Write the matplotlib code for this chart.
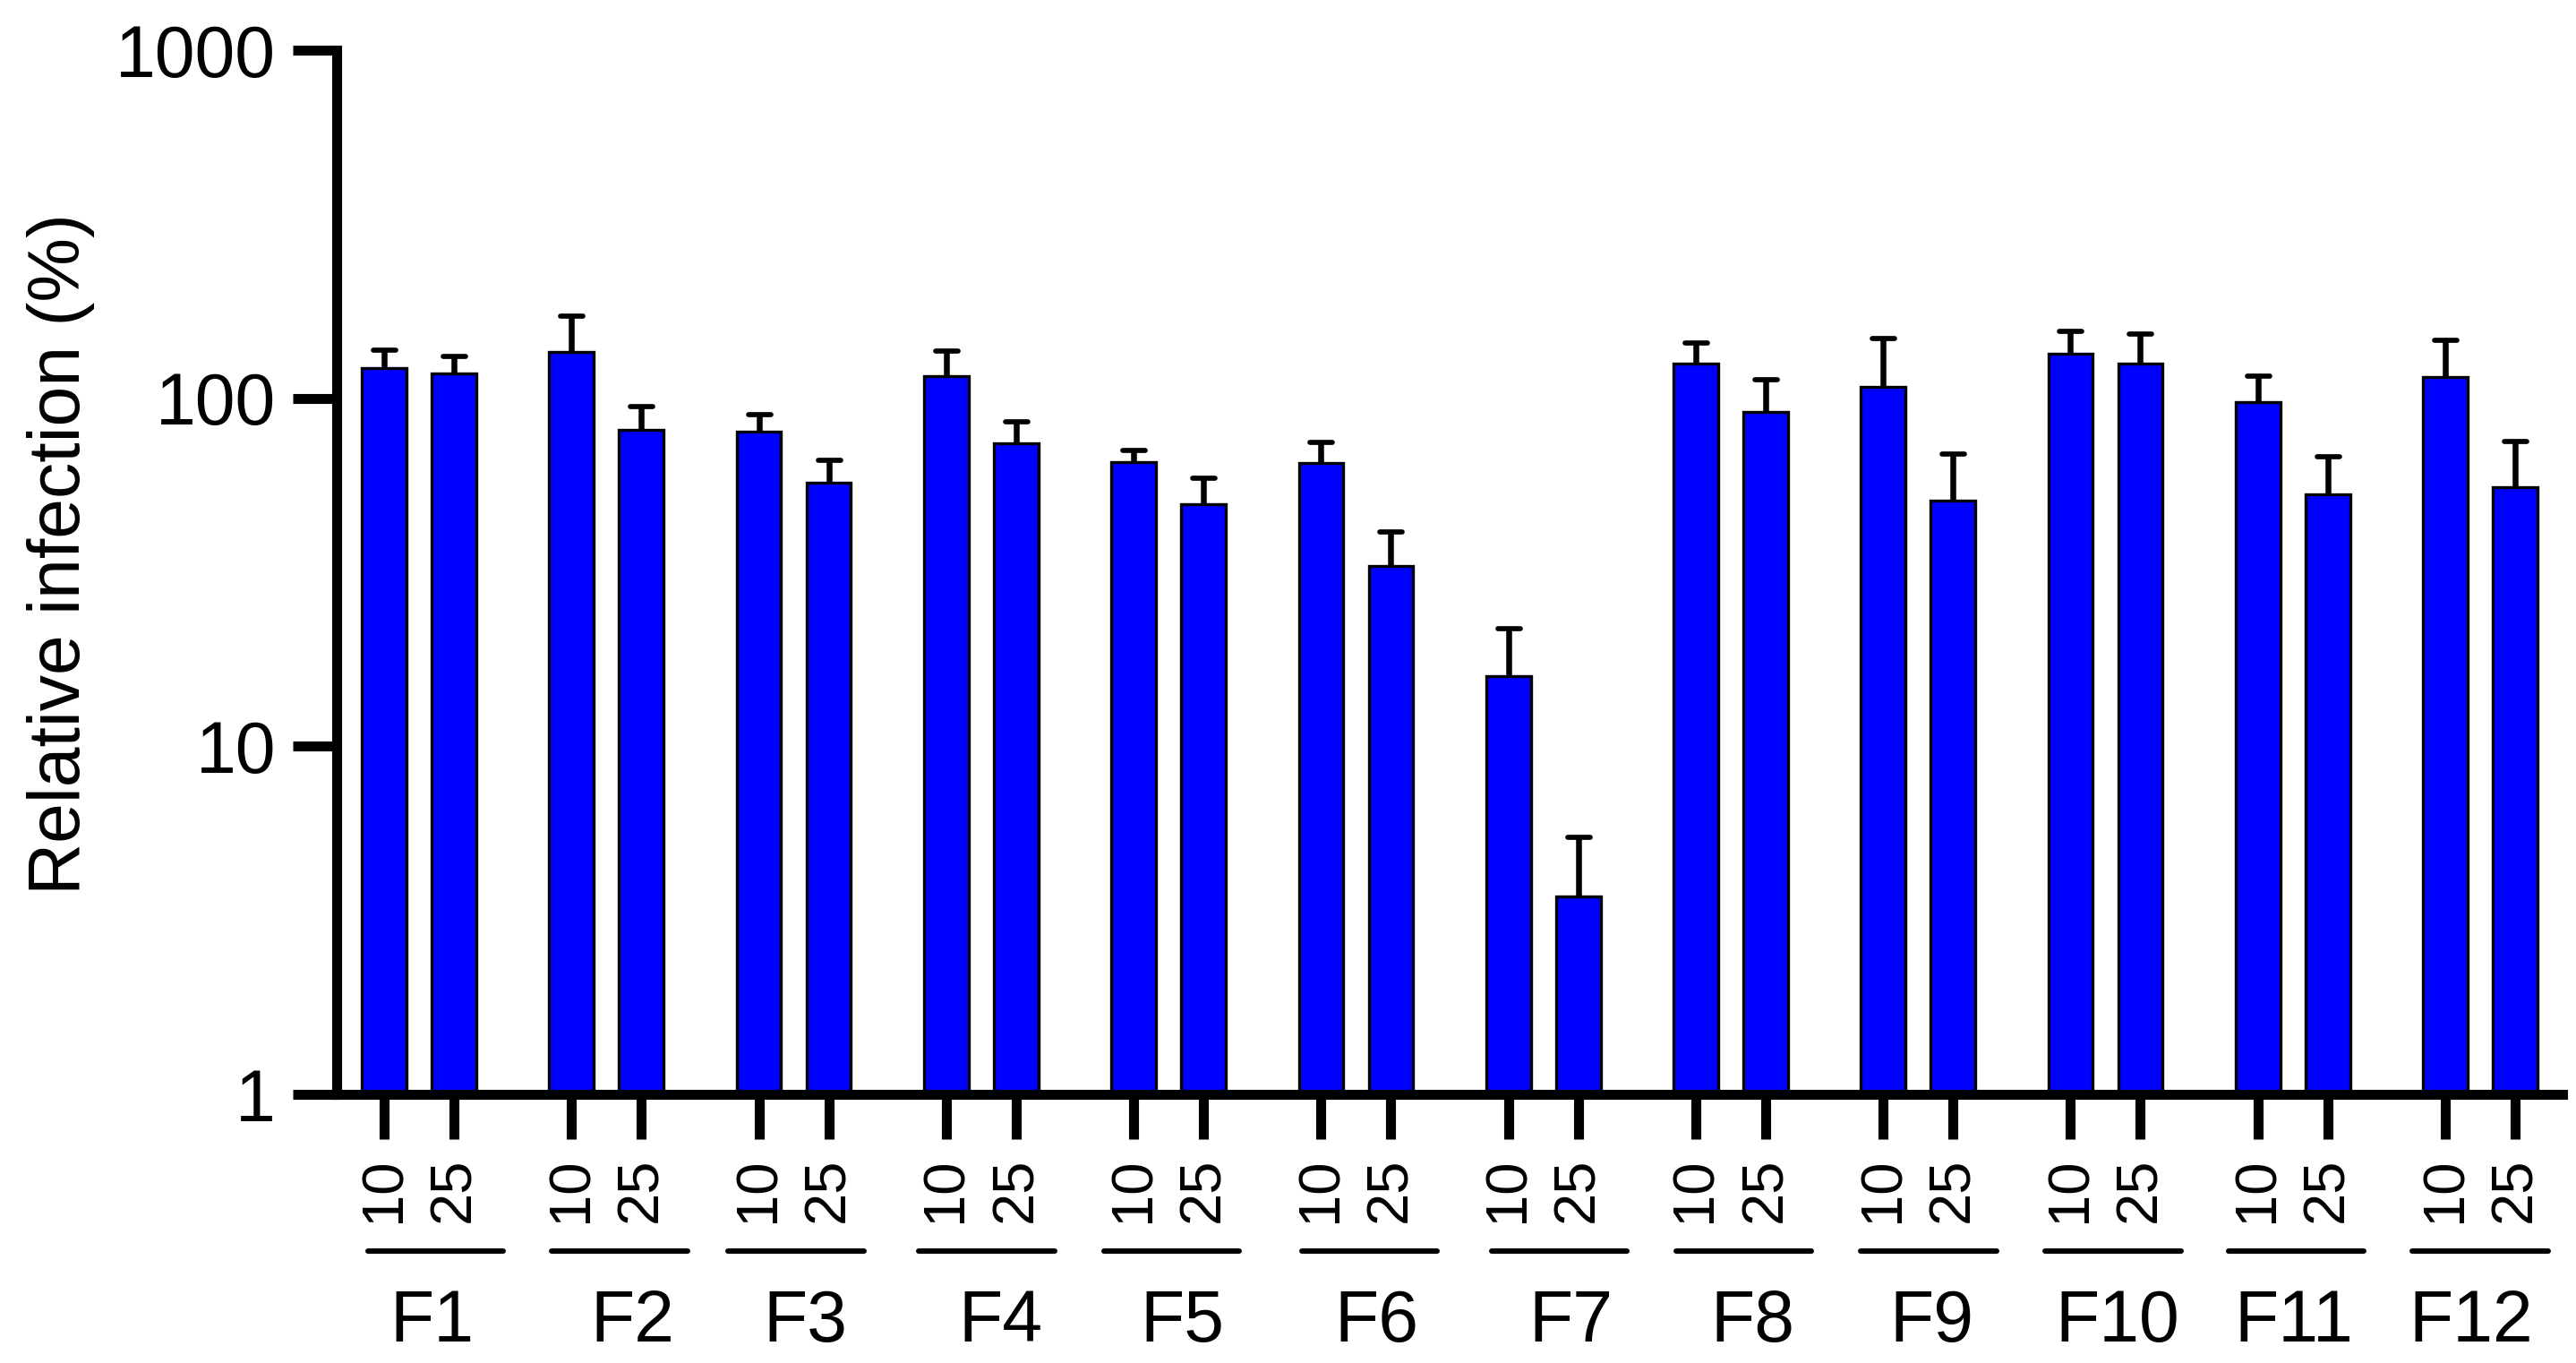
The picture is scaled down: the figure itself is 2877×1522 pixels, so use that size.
import numpy as np
import matplotlib
matplotlib.use('Agg')
import matplotlib.pyplot as plt
import matplotlib.transforms as mtransforms
from matplotlib.markers import MarkerStyle
from matplotlib.ticker import NullLocator

plt.rcParams['font.family'] = ['Liberation Sans', 'DejaVu Sans']

# data (relative infection %, mean and upper error)
groups = ['F1', 'F2', 'F3', 'F4', 'F5', 'F6', 'F7', 'F8', 'F9', 'F10', 'F11', 'F12']
doses = ['10', '25']
mean_10 = [122, 136, 80, 116, 65.6, 65.2, 15.9, 126, 108, 134, 97.7, 115]
mean_25 = [118, 81, 57.3, 74.3, 49.7, 33, 3.7, 91.5, 50.8, 126, 53, 55.6]
err_10 = [15.5, 36.6, 9.5, 21, 5.1, 9.6, 5.9, 17.9, 40.5, 21.7, 18.3, 31.8]
err_25 = [14, 13.8, 9.2, 11.1, 9.2, 8.3, 1.76, 21.5, 18.3, 27, 15.1, 19.6]
y_ticks = [1, 10, 100, 1000]
y_ticklabels = ['1', '10', '100', '1000']

# layout: the group underlines/labels are slightly off-centre in the original
line_shift = [0.24, 0.19, 0.03, 0.08, 0.04, 0.19, 0.23, 0.19, 0.15, 0.11, 0.05, 0.0]
label_shift = [0.18, 0.37, 0.16, 0.28, 0.19, 0.30, 0.39, 0.31, 0.19, 0.17, 0.01, -0.13]

period = 2.683
bar_w = 0.637
blue = '#0000FF'

fig = plt.figure(figsize=(28.77, 15.22), dpi=100)
ax = fig.add_axes([0.1307, 0.1971, 0.8641, 0.7661])

base = np.arange(len(groups)) * period
x10 = base
x25 = base + 1
centers = base + 0.5

for xs, means, errs in [(x10, mean_10, err_10), (x25, mean_25, err_25)]:
    ax.bar(xs, means, width=bar_w, color=blue, edgecolor='black', linewidth=2.4, zorder=2)
    _, caps, _ = ax.errorbar(xs, means, yerr=[np.zeros(len(errs)), errs], fmt='none',
                             ecolor='black', elinewidth=4.7, capsize=9, capthick=4.1, zorder=1)
    caps[0].set_visible(False)  # one-sided error bars, no lower cap
    caps[1].set_marker(MarkerStyle('_', capstyle='round'))

ax.set_yscale('log')
ax.set_ylim(1, 1000)
ax.set_xlim(x10[0] - 0.68, x25[-1] + 0.68)
ax.set_yticks(y_ticks)
ax.set_yticklabels(y_ticklabels)
ax.yaxis.set_minor_locator(NullLocator())

ticks = np.ravel(np.column_stack([x10, x25]))
ax.set_xticks(ticks)
ax.set_xticklabels(doses * len(groups), rotation=90, va='top', ha='center')

for side in ['top', 'right']:
    ax.spines[side].set_visible(False)
for side in ['left', 'bottom']:
    ax.spines[side].set_linewidth(8)

ax.tick_params(axis='y', direction='out', length=35, width=8, labelsize=58, pad=14)
ax.tick_params(axis='x', direction='out', length=36, width=8, labelsize=47, pad=15)

fig.text(0.0235, 0.5933, 'Relative infection (%)', rotation=90, ha='center', va='center', fontsize=58)

# group underlines and names below the dose labels
blend = mtransforms.blended_transform_factory(ax.transData, fig.transFigure)
for i, name in enumerate(groups):
    c = centers[i] + line_shift[i]
    ax.plot([c - 0.97, c + 0.97], [0.0821, 0.0821], transform=blend, clip_on=False,
            color='black', lw=4.3, solid_capstyle='round')
    ax.text(centers[i] + label_shift[i], 0.0158, name, transform=blend, ha='center',
            va='baseline', fontsize=58)

fig.savefig('out.png', dpi=100)
plt.close()
